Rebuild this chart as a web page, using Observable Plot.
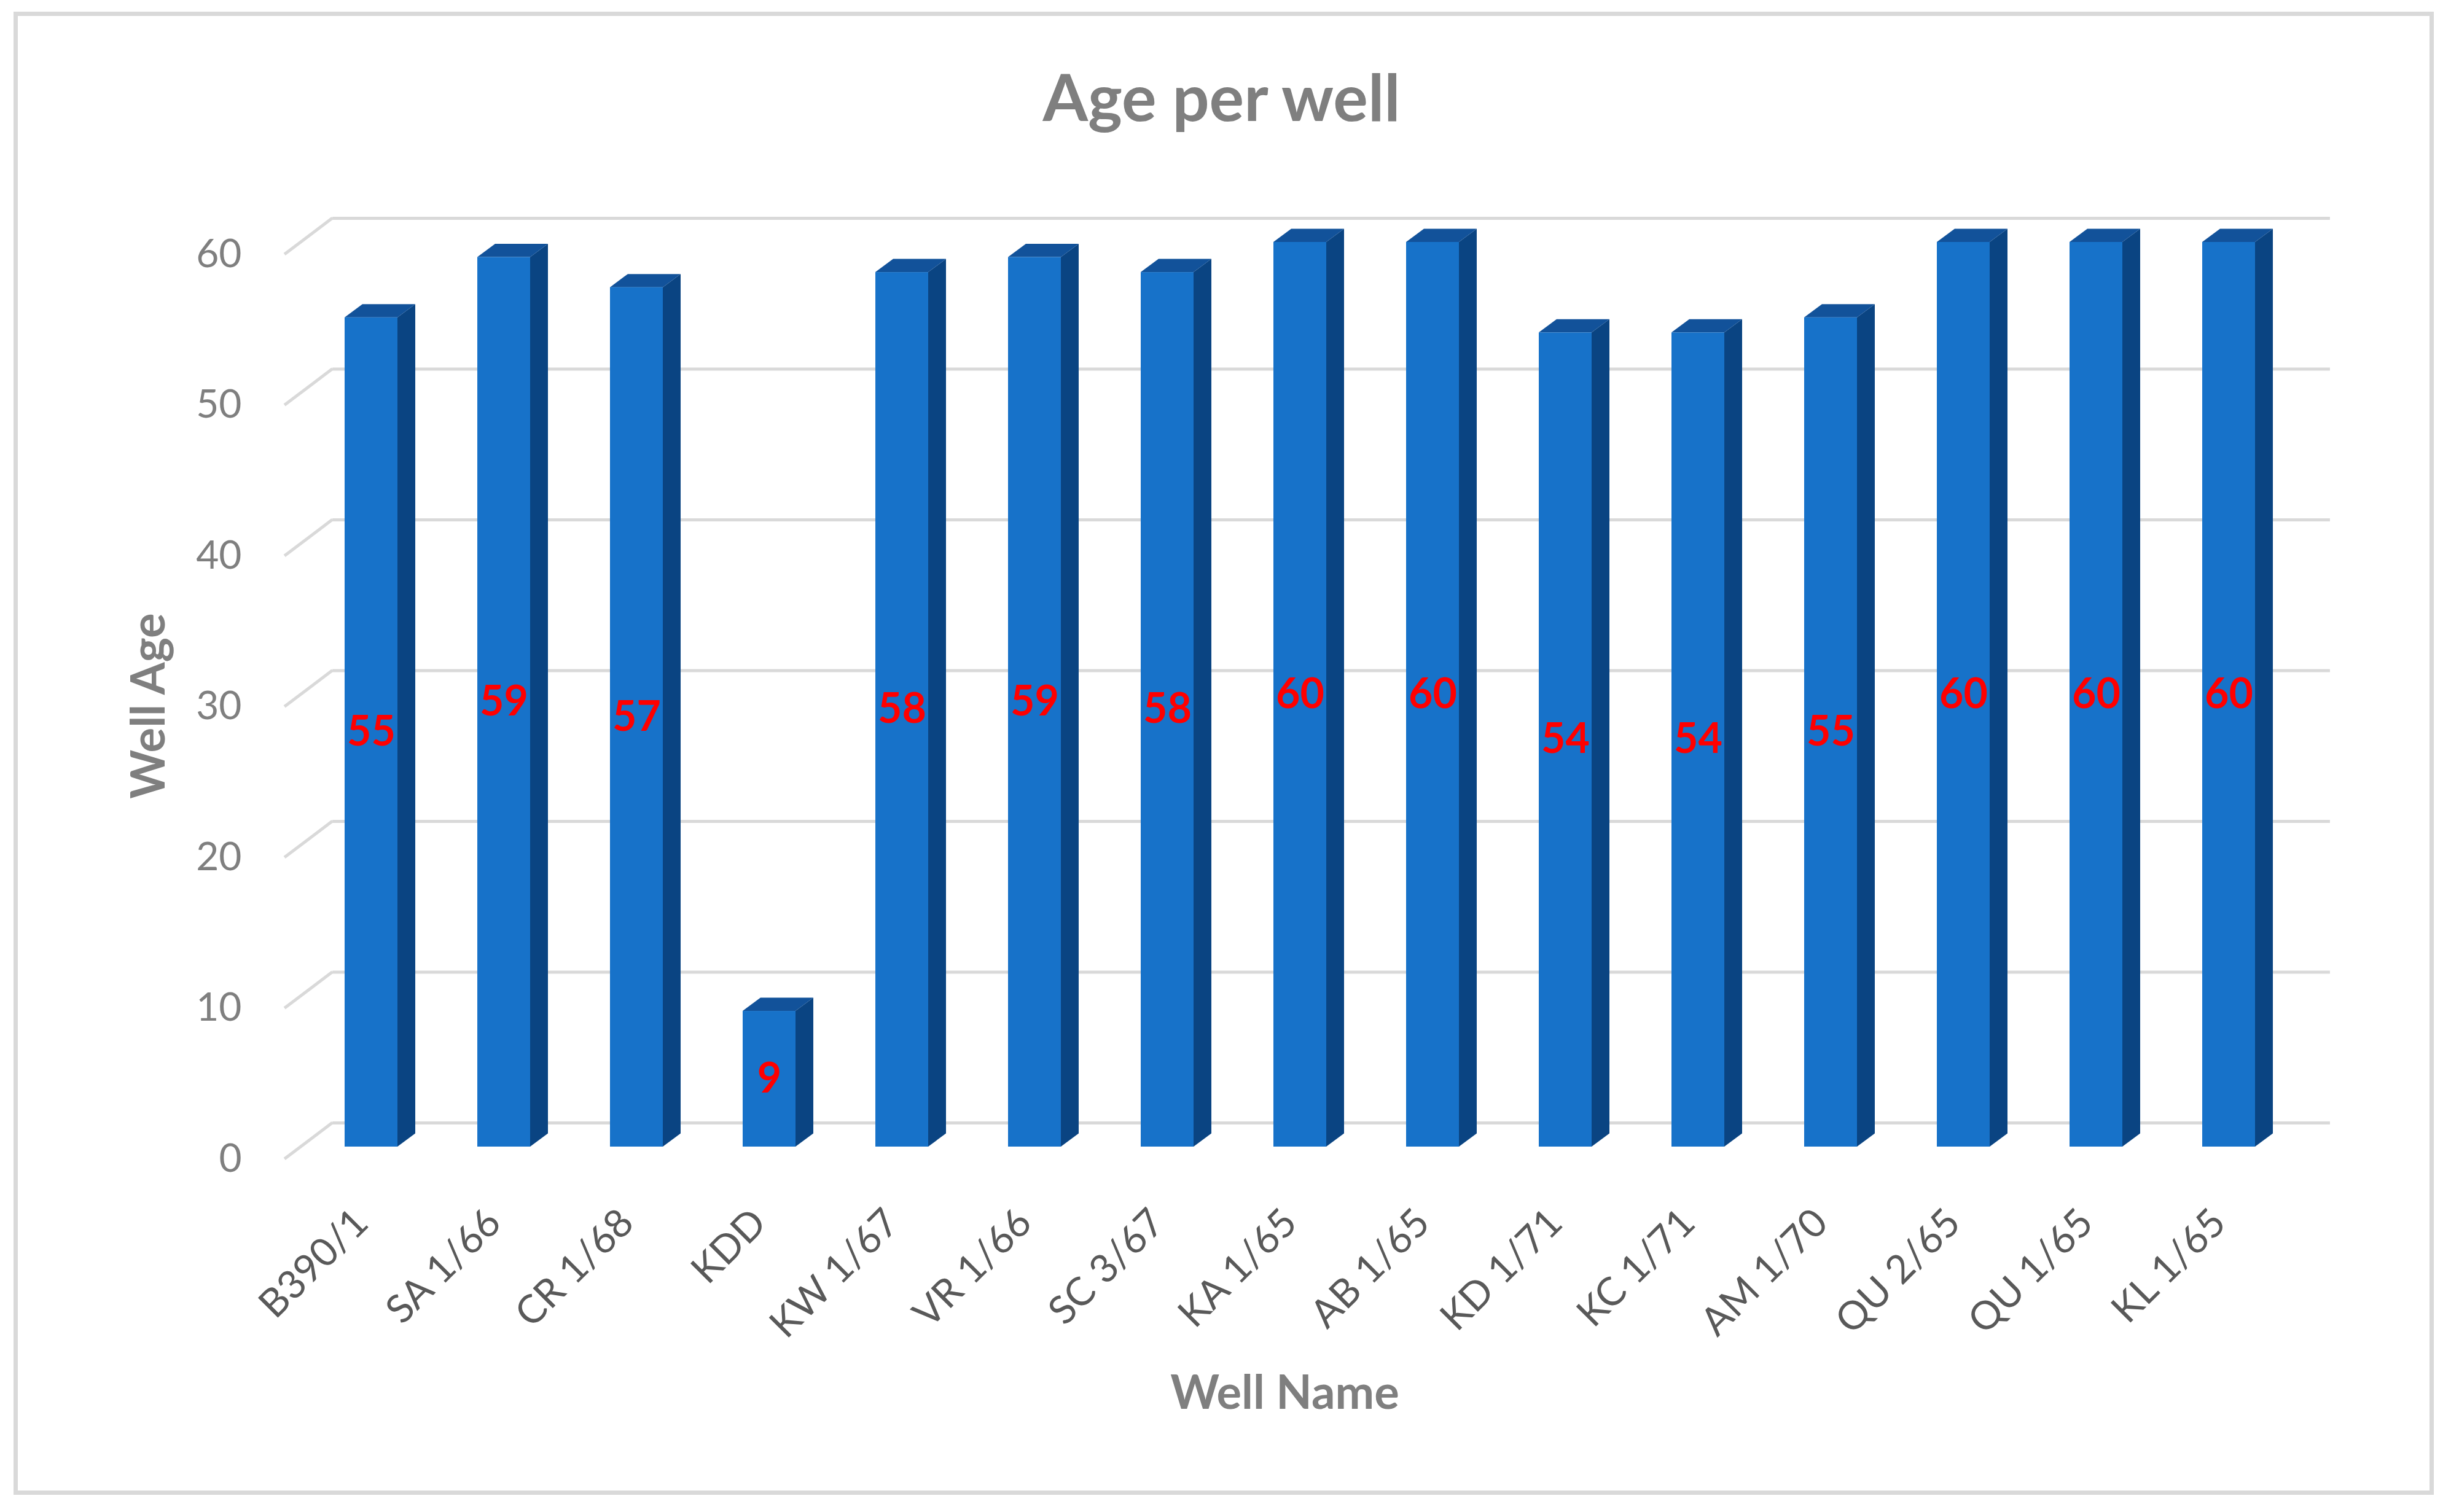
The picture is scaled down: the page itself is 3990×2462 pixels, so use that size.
<!DOCTYPE html>
<html>
<head>
<meta charset="utf-8">
<script src="https://cdn.jsdelivr.net/npm/d3@7"></script>
<script src="https://cdn.jsdelivr.net/npm/@observablehq/plot@0.6"></script>
<style>
  html, body { margin: 0; padding: 0; background: #ffffff; }
  #chart { position: absolute; left: 0; top: 0; }
  #border { position: absolute; left: 22px; top: 19px; width: 3926px; height: 2401px;
            border: 7px solid #d9d9d9; pointer-events: none; }
</style>
</head>
<body>
<div id="chart"></div>
<div id="border"></div>
<script>
// ---- data ----
const wells = ["B390/1", "SA 1/66", "CR 1/68", "KDD", "KW 1/67", "VR 1/66", "SC 3/67", "KA 1/65",
               "AB 1/65", "KD 1/71", "KC 1/71", "AM 1/70", "QU 2/65", "QU 1/65", "KL 1/65"];
const ages = [55, 59, 57, 9, 58, 59, 58, 60, 60, 54, 54, 55, 60, 60, 60];
const yTicks = [0, 10, 20, 30, 40, 50, 60];
const chartTitle = "Age per well";
const xTitle = "Well Name";
const yTitle = "Well Age";

const data = wells.map((well, i) => ({well, age: ages[i]}));

// ---- style / layout ----
const W = 3990, H = 2462;
const ML = 489.6, MR = W - 3741.4, MT = 394, MB = H - 1867;
const DEPTH = [29, -21.5];   // bar depth offset (px)
const WALL = [51.5, -39];    // back wall offset from bar plane
const FRONTP = [-26.5, 20];  // front plane offset from bar plane
const C_FRONT = "#1772c9", C_SIDE = "#0a4482", C_TOP = "#12529a";
const GRID = "#d9d9d9";
const FONT = "Lato, 'Open Sans', sans-serif";

function sideRender(index, scales, values) {
  const bw = scales.x.bandwidth();
  const g = d3.create("svg:g").attr("fill", C_SIDE);
  for (const i of index) {
    const xr = values.x[i] + bw;
    const yt = Math.min(values.y1[i], values.y2[i]);
    const yb = Math.max(values.y1[i], values.y2[i]);
    g.append("path").attr("d",
      `M${xr},${yt}L${xr + DEPTH[0]},${yt + DEPTH[1]}L${xr + DEPTH[0]},${yb + DEPTH[1]}L${xr},${yb}Z`);
  }
  return g.node();
}
function topRender(index, scales, values) {
  const bw = scales.x.bandwidth();
  const g = d3.create("svg:g").attr("fill", C_TOP);
  for (const i of index) {
    const xl = values.x[i], xr = xl + bw;
    const yt = Math.min(values.y1[i], values.y2[i]);
    g.append("path").attr("d",
      `M${xl},${yt}L${xl + DEPTH[0]},${yt + DEPTH[1]}L${xr + DEPTH[0]},${yt + DEPTH[1]}L${xr},${yt}Z`);
  }
  return g.node();
}
function diagRender(index, scales, values, dims) {
  const x0 = dims.marginLeft;
  const g = d3.create("svg:g").attr("stroke", GRID).attr("stroke-width", 5);
  for (const i of index) {
    const y = values.y[i];
    g.append("line")
      .attr("x1", x0 + FRONTP[0]).attr("y1", y + FRONTP[1])
      .attr("x2", x0 + WALL[0]).attr("y2", y + WALL[1]);
  }
  return g.node();
}

const plot = Plot.plot({
  width: W, height: H,
  marginLeft: ML, marginRight: MR, marginTop: MT, marginBottom: MB,
  style: {background: "#ffffff", fontFamily: FONT, overflow: "visible"},
  x: {type: "band", domain: wells, paddingInner: 0.6033, paddingOuter: 0.3017, axis: null},
  y: {domain: [0, 60], axis: null},
  marks: [
    Plot.ruleY(yTicks, {dx: WALL[0], dy: WALL[1], stroke: GRID, strokeWidth: 5}),
    Plot.ruleY(yTicks, {stroke: GRID, strokeWidth: 5, render: diagRender}),
    Plot.barY(data, {x: "well", y: "age", fill: C_SIDE, render: sideRender}),
    Plot.barY(data, {x: "well", y: "age", fill: C_TOP, render: topRender}),
    Plot.barY(data, {x: "well", y: "age", fill: C_FRONT}),
    Plot.text(data, {x: "well", y: d => d.age / 2, text: d => String(d.age),
                     fill: "#ff0000", fontWeight: "bold", fontSize: 68}),
    Plot.axisY(yTicks, {tickSize: 0, tickPadding: 96.6, dy: FRONTP[1], fontSize: 64,
                        color: "#7f7f7f", label: null}),
    Plot.axisX(wells, {tickSize: 0, tickPadding: 113, dx: -16, tickRotate: -45, fontSize: 64,
                       color: "#595959", label: null}),
    Plot.text([yTitle], {frameAnchor: "left", rotate: -90, dx: -246.6, dy: 18.5, textAnchor: "middle",
                         fontWeight: "bold", fontSize: 76, fill: "#7f7f7f"}),
    Plot.text([xTitle], {frameAnchor: "bottom", dx: -24.5, dy: 426, lineAnchor: "bottom",
                         fontWeight: "bold", fontSize: 76, fill: "#7f7f7f"}),
    Plot.text([chartTitle], {frameAnchor: "top", dx: -127.5, dy: -198, lineAnchor: "bottom",
                             fontWeight: "bold", fontSize: 106, fill: "#7f7f7f"})
  ]
});
document.getElementById("chart").appendChild(plot);
</script>
</body>
</html>
